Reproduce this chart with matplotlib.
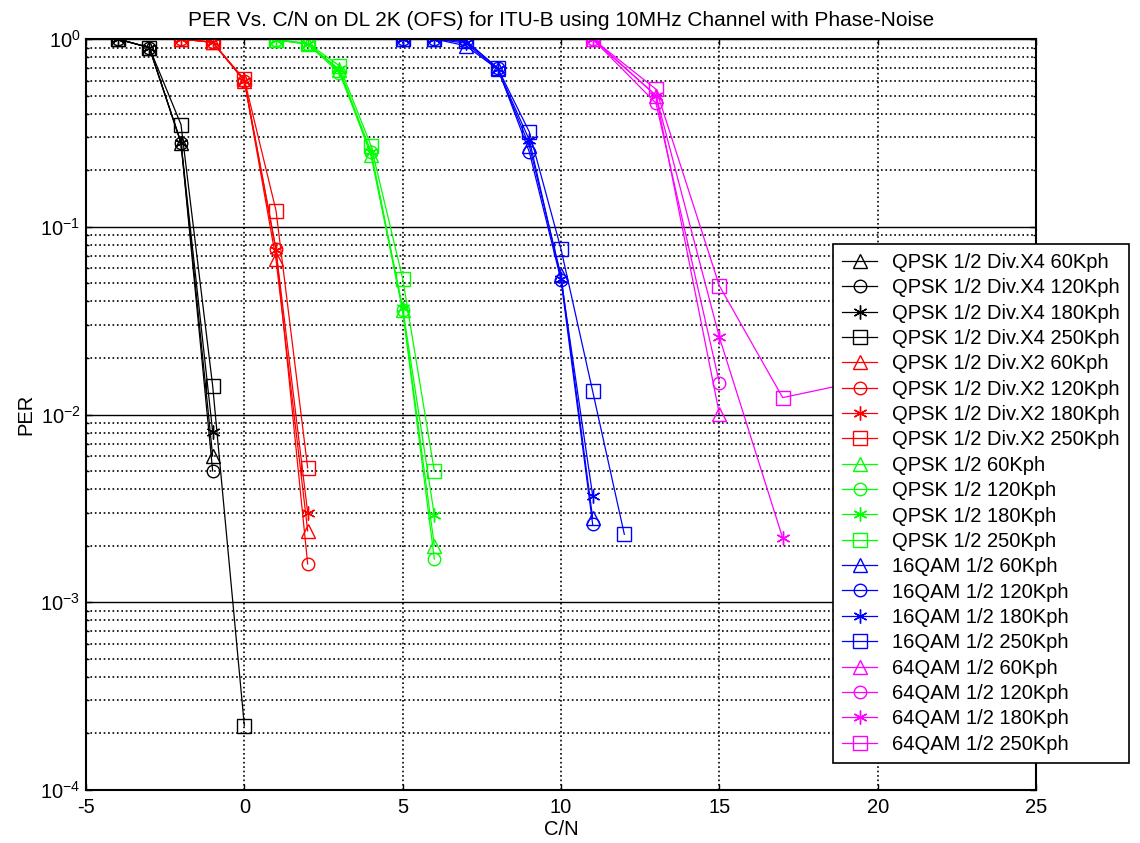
import matplotlib
matplotlib.use("Agg")
import matplotlib.pyplot as plt
from matplotlib.ticker import LogLocator, NullFormatter

plt.rcParams['font.family'] = ['Liberation Sans', 'DejaVu Sans']
plt.rcParams['axes.unicode_minus'] = False
plt.rcParams['mathtext.fontset'] = 'custom'
plt.rcParams['mathtext.rm'] = 'Liberation Sans'

# QPSK 1/2 Div.X4 (black)
cn_x4 = [-4, -3, -2, -1]
cn_x4_250 = [-4, -3, -2, -1, 0]
x4_60 = [1.0, 0.9, 0.28, 0.006]
x4_120 = [1.0, 0.9, 0.28, 0.005]
x4_180 = [1.0, 0.9, 0.28, 0.0081]
x4_250 = [1.0, 0.9, 0.35, 0.0142, 0.00022]

# QPSK 1/2 Div.X2 (red)
cn_x2 = [-2, -1, 0, 1, 2]
x2_60 = [1.0, 0.96, 0.6, 0.067, 0.0024]
x2_120 = [1.0, 0.96, 0.6, 0.076, 0.0016]
x2_180 = [1.0, 0.96, 0.6, 0.075, 0.003]
x2_250 = [1.0, 0.96, 0.61, 0.122, 0.0052]

# QPSK 1/2 (green)
cn_q = [1, 2, 3, 4, 5, 6]
q_60 = [0.99, 0.94, 0.68, 0.24, 0.036, 0.002]
q_120 = [0.99, 0.94, 0.66, 0.25, 0.036, 0.0017]
q_180 = [0.99, 0.94, 0.69, 0.25, 0.037, 0.0029]
q_250 = [0.99, 0.95, 0.72, 0.27, 0.053, 0.005]

# 16QAM 1/2 (blue)
cn_16 = [5, 6, 7, 8, 9, 10, 11]
cn_16_250 = [5, 6, 7, 8, 9, 10, 11, 12]
qam16_60 = [1.0, 1.0, 0.92, 0.69, 0.27, 0.055, 0.0028]
qam16_120 = [1.0, 1.0, 0.98, 0.70, 0.25, 0.052, 0.0026]
qam16_180 = [1.0, 1.0, 0.95, 0.69, 0.29, 0.053, 0.0037]
qam16_250 = [1.0, 1.0, 0.97, 0.70, 0.32, 0.076, 0.0133, 0.0023]

# 64QAM 1/2 (magenta)
cn_64 = [11, 13, 15]
cn_64_180 = [11, 13, 15, 17]
cn_64_250 = [11, 13, 15, 17, 19]
qam64_60 = [1.0, 0.50, 0.0101]
qam64_120 = [1.0, 0.455, 0.0148]
qam64_180 = [1.0, 0.50, 0.0258, 0.0022]
qam64_250 = [1.0, 0.54, 0.0485, 0.0123, 0.0145]

asterisk = (6, 2, 0)

series = [
    (cn_x4, x4_60, 'k', '^', 'QPSK 1/2 Div.X4 60Kph'),
    (cn_x4, x4_120, 'k', 'o', 'QPSK 1/2 Div.X4 120Kph'),
    (cn_x4, x4_180, 'k', asterisk, 'QPSK 1/2 Div.X4 180Kph'),
    (cn_x4_250, x4_250, 'k', 's', 'QPSK 1/2 Div.X4 250Kph'),
    (cn_x2, x2_60, '#ff0000', '^', 'QPSK 1/2 Div.X2 60Kph'),
    (cn_x2, x2_120, '#ff0000', 'o', 'QPSK 1/2 Div.X2 120Kph'),
    (cn_x2, x2_180, '#ff0000', asterisk, 'QPSK 1/2 Div.X2 180Kph'),
    (cn_x2, x2_250, '#ff0000', 's', 'QPSK 1/2 Div.X2 250Kph'),
    (cn_q, q_60, '#00ff00', '^', 'QPSK 1/2 60Kph'),
    (cn_q, q_120, '#00ff00', 'o', 'QPSK 1/2 120Kph'),
    (cn_q, q_180, '#00ff00', asterisk, 'QPSK 1/2 180Kph'),
    (cn_q, q_250, '#00ff00', 's', 'QPSK 1/2 250Kph'),
    (cn_16, qam16_60, '#0000ff', '^', '16QAM 1/2 60Kph'),
    (cn_16, qam16_120, '#0000ff', 'o', '16QAM 1/2 120Kph'),
    (cn_16, qam16_180, '#0000ff', asterisk, '16QAM 1/2 180Kph'),
    (cn_16_250, qam16_250, '#0000ff', 's', '16QAM 1/2 250Kph'),
    (cn_64, qam64_60, '#ff00ff', '^', '64QAM 1/2 60Kph'),
    (cn_64, qam64_120, '#ff00ff', 'o', '64QAM 1/2 120Kph'),
    (cn_64_180, qam64_180, '#ff00ff', asterisk, '64QAM 1/2 180Kph'),
    (cn_64_250, qam64_250, '#ff00ff', 's', '64QAM 1/2 250Kph'),
]

fs = 14.5

fig = plt.figure(figsize=(11.4, 8.43), dpi=100)
ax = fig.add_axes([86 / 1140, 53 / 843, 950 / 1140, 751 / 843])

for xs, ys, col, mk, lab in series:
    ms = 10 if mk != 'o' else 9
    ax.semilogy(xs, ys, color=col, marker=mk, markersize=ms,
                markerfacecolor='none', markeredgecolor=col,
                linewidth=0.9, markeredgewidth=1.0, label=lab)

ax.set_xlim(-5, 25)
ax.set_ylim(1e-4, 1)
ax.set_xticks([-5, 0, 5, 10, 15, 20, 25])
ax.yaxis.set_major_locator(LogLocator(base=10, numticks=10))
ax.yaxis.set_minor_locator(LogLocator(base=10, subs=range(2, 10), numticks=10))
ax.yaxis.set_minor_formatter(NullFormatter())

ax.grid(True, which='major', axis='x', color='k', linestyle=':', linewidth=1.2)
ax.grid(True, which='major', axis='y', color='k', linestyle='-', linewidth=1.0)
ax.grid(True, which='minor', axis='y', color='k', linestyle=':', linewidth=1.2)

ax.tick_params(which='both', direction='in', top=True, right=True,
               labelsize=fs, width=1.0)
ax.tick_params(which='major', length=4, pad=6)
ax.tick_params(axis='y', which='major', pad=4)
ax.tick_params(which='minor', length=2)
for sp in ax.spines.values():
    sp.set_linewidth(1.5)

ax.set_title('PER Vs. C/N on DL 2K (OFS) for ITU-B using 10MHz Channel with Phase-Noise',
             fontsize=15, pad=9)
ax.set_xlabel('C/N', fontsize=fs, labelpad=2)
ax.set_ylabel('PER', fontsize=fs)
ax.yaxis.set_label_coords(-0.053, 0.5)

leg = fig.legend(loc='upper left', bbox_to_anchor=(833 / 1140, 1 - 244 / 843),
                 fontsize=fs, frameon=True, fancybox=False, edgecolor='k',
                 framealpha=1, borderaxespad=0, handlelength=1.75,
                 handletextpad=0.75, labelspacing=0.315, borderpad=0.45)
leg.get_frame().set_linewidth(1.2)

fig.savefig('out.png', dpi=100)
